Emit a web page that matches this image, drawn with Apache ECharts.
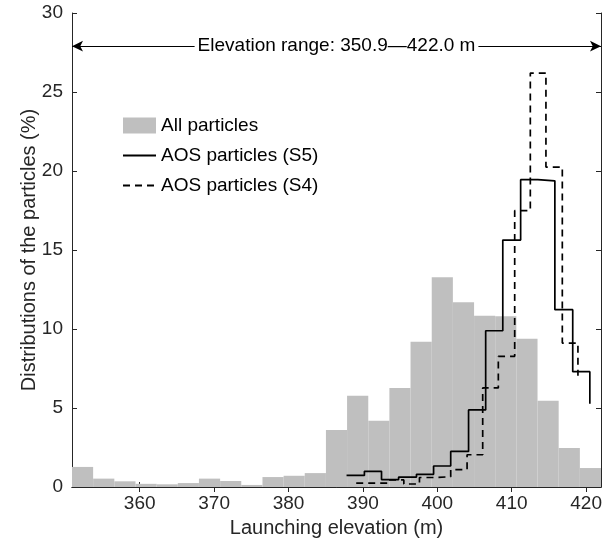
<!DOCTYPE html>
<html>
<head>
<meta charset="utf-8">
<script src="https://cdn.jsdelivr.net/npm/echarts@6/dist/echarts.min.js"></script>
<style>
  html, body { margin: 0; padding: 0; background: #ffffff; }
  #chart { width: 614px; height: 549px; }
</style>
</head>
<body>
<div id="chart"></div>
<script>
// gray histogram: bin edges (m) and share of all particles (%)
const binEdges = [350.9, 353.74, 356.59, 359.43, 362.28, 365.12, 367.96, 370.81, 373.65,
  376.5, 379.34, 382.18, 385.03, 387.87, 390.72, 393.56, 396.4, 399.25, 402.09, 404.94,
  407.78, 410.62, 413.47, 416.31, 419.16, 422.0];
const allParticles = [1.27, 0.53, 0.36, 0.2, 0.17, 0.25, 0.53, 0.38, 0.13, 0.63, 0.71, 0.88,
  3.6, 5.78, 4.2, 6.27, 9.2, 13.27, 11.7, 10.84, 10.8, 9.39, 5.46, 2.47, 1.2];

// stairs for AOS particles
const s5X = [387.8, 390.2, 392.5, 394.8, 397.2, 399.5, 401.8, 404.2, 406.5, 408.8, 411.2, 413.5, 415.8, 418.2, 420.5];
const s5Y = [0.73, 0.99, 0.47, 0.63, 0.8, 1.33, 2.25, 4.88, 9.89, 15.63, 19.45, 19.38, 11.22, 7.3, 5.27];
const s4X = [389.1, 391.2, 393.3, 395.5, 397.6, 399.7, 401.8, 404.0, 406.1, 408.2, 410.4, 412.5, 414.6, 416.8, 418.9];
const s4Y = [0.25, 0.25, 0.45, 0.19, 0.6, 0.65, 1.1, 2.04, 6.27, 8.27, 17.49, 26.2, 20.25, 9.11, 7.04];

const xTicks = [360, 370, 380, 390, 400, 410, 420];
const rangeArrow = [350.9, 422.0];
const arrowLevel = 27.9;
const rangeText = 'Elevation range: 350.9\u2014422.0 m';

const ink = '#262626';
const font = 'Liberation Sans, Helvetica, Arial, sans-serif';

const histData = allParticles.map((v, i) => [binEdges[i], binEdges[i + 1], v]);
const zip = (xs, ys) => xs.map((x, i) => [x, ys[i]]);

const chart = echarts.init(document.getElementById('chart'), null, { renderer: 'canvas' });

const tickAxis = (extra) => Object.assign({
  type: 'value',
  splitLine: { show: false },
  axisLine: { show: true, lineStyle: { color: ink, width: 1 } },
  axisTick: { show: true, inside: true, length: 5, lineStyle: { color: ink } },
}, extra);

// hide the circle ECharts puts on line legend icons
const noMarker = { color: 'rgba(0,0,0,0)', borderColor: 'rgba(0,0,0,0)', opacity: 0 };

chart.setOption({
  animation: false,
  backgroundColor: '#ffffff',
  textStyle: { fontFamily: font, color: ink },
  grid: { left: 72, right: 13, top: 13, bottom: 62, show: false },
  legend: {
    orient: 'vertical',
    left: 117, top: 111,
    itemWidth: 33, itemHeight: 16, itemGap: 11,
    textStyle: { fontSize: 19, color: '#000', fontFamily: font },
    data: [
      { name: 'All particles', icon: 'rect' },
      { name: 'AOS particles (S5)', itemStyle: noMarker },
      { name: 'AOS particles (S4)', itemStyle: noMarker }
    ]
  },
  xAxis: [
    tickAxis({
      position: 'bottom', min: rangeArrow[0], max: rangeArrow[1],
      name: 'Launching elevation (m)', nameLocation: 'middle', nameGap: 31,
      nameTextStyle: { fontSize: 20, color: ink, fontFamily: font },
      axisTick: { show: true, inside: true, length: 5, lineStyle: { color: ink }, customValues: xTicks },
      axisLabel: { fontSize: 19, color: ink, margin: 7, customValues: xTicks }
    }),
    tickAxis({
      position: 'top', min: rangeArrow[0], max: rangeArrow[1],
      axisTick: { show: true, inside: true, length: 5, lineStyle: { color: ink }, customValues: xTicks },
      axisLabel: { show: false }
    })
  ],
  yAxis: [
    tickAxis({
      position: 'left', min: 0, max: 30, interval: 5,
      name: 'Distributions of the particles (%)', nameLocation: 'middle', nameGap: 33,
      nameMoveOverlap: false,
      nameTextStyle: { fontSize: 20, color: ink, fontFamily: font },
      axisLabel: { fontSize: 19, color: ink, margin: 9 }
    }),
    tickAxis({
      position: 'right', min: 0, max: 30, interval: 5,
      axisLabel: { show: false }
    })
  ],
  series: [
    {
      name: 'All particles',
      type: 'custom',
      itemStyle: { color: '#bfbfbf' },
      encode: { x: [0, 1], y: 2 },
      data: histData,
      z: 1,
      renderItem: (params, api) => {
        const p0 = api.coord([api.value(0), api.value(2)]);
        const p1 = api.coord([api.value(1), 0]);
        return {
          type: 'rect',
          shape: { x: p0[0], y: p0[1], width: p1[0] - p0[0], height: p1[1] - p0[1] },
          style: { fill: '#bfbfbf' }
        };
      }
    },
    {
      name: 'AOS particles (S5)',
      type: 'line',
      step: 'end',
      symbol: 'none',
      z: 3,
      data: zip(s5X, s5Y),
      lineStyle: { color: '#000', width: 1.7 },
      itemStyle: { color: '#000' }
    },
    {
      name: 'AOS particles (S4)',
      type: 'line',
      step: 'end',
      symbol: 'none',
      z: 3,
      data: zip(s4X, s4Y),
      lineStyle: { color: '#000', width: 1.7, type: [7, 5] },
      itemStyle: { color: '#000' }
    },
    {
      name: 'range',
      type: 'line',
      data: [],
      z: 4,
      markLine: {
        silent: true,
        symbol: ['arrow', 'arrow'],
        symbolSize: [8, 11],
        lineStyle: { color: '#000', width: 1, type: 'solid' },
        label: {
          show: true, position: 'middle', verticalAlign: 'middle', distance: 0,
          formatter: rangeText,
          fontSize: 19, color: '#000', fontFamily: font,
          backgroundColor: '#ffffff', padding: [0, 3]
        },
        data: [[
          { coord: [rangeArrow[0], arrowLevel] },
          { coord: [rangeArrow[1], arrowLevel] }
        ]]
      }
    }
  ]
});
</script>
</body>
</html>
